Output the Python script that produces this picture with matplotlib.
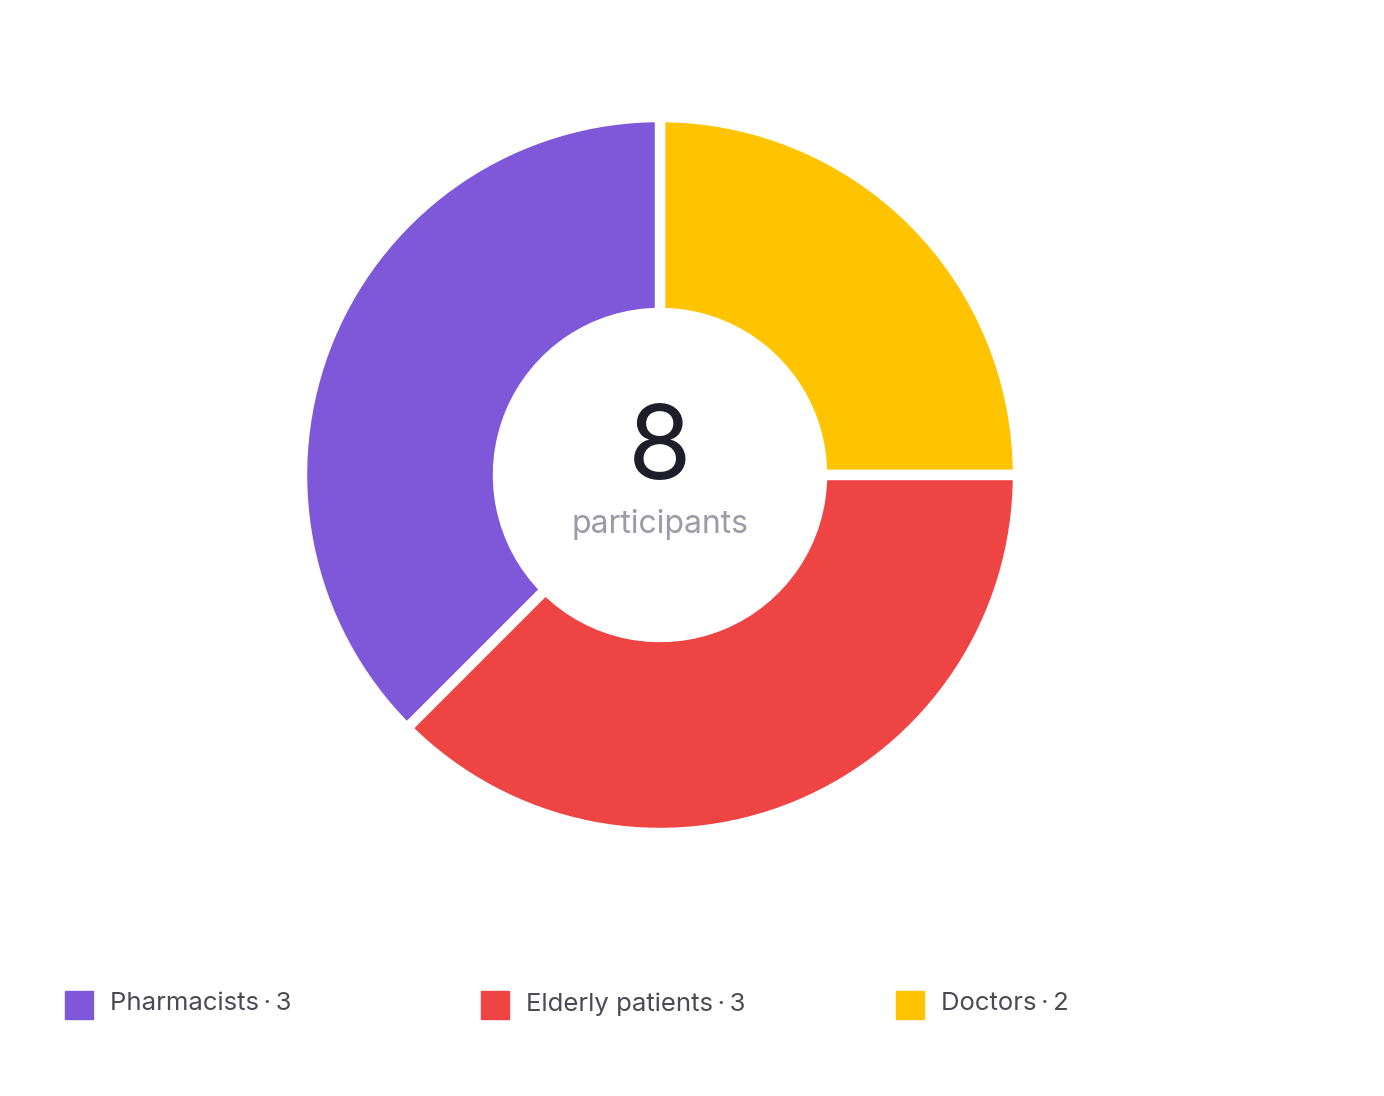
import matplotlib as mpl
mpl.use('Agg')
import matplotlib.pyplot as plt
from matplotlib.patches import Rectangle

plt.rcParams['font.family'] = ['Inter', 'DejaVu Sans']

# data (drawing order: clockwise from 12 o'clock)
groups = ['Doctors', 'Elderly patients', 'Pharmacists']
counts = [2, 3, 3]
colors = ['#FFC300', '#EF4444', '#7F58DA']

# legend order as shown under the chart
legend_groups = ['Pharmacists', 'Elderly patients', 'Doctors']

W, H = 1384, 1096
fig = plt.figure(figsize=(W / 100, H / 100), dpi=100)
ax = fig.add_axes([0, 0, 1, 1])

cx, cy = 660, H - 475
ax.pie(counts, colors=colors, startangle=90, counterclock=False,
       center=(cx, cy), radius=358, frame=True,
       wedgeprops=dict(width=196, edgecolor='white', linewidth=7.5))
ax.set_xlim(0, W)
ax.set_ylim(0, H)
ax.set_aspect('equal')
ax.axis('off')

total = sum(counts)
ax.text(cx, H - 452, str(total), ha='center', va='center',
        fontsize=74, color='#1E1E28')
ax.text(cx, H - 525, 'participants', ha='center', va='center',
        fontsize=23, color='#9B9AA6')

lookup = dict(zip(groups, counts))
cmap = dict(zip(groups, colors))
for i, g in enumerate(legend_groups):
    x0 = 65 + i * 415.5
    ax.add_patch(Rectangle((x0, H - 1019), 28, 28, color=cmap[g]))
    ax.text(x0 + 45, H - 1004, g + '\u2009\u00b7\u2009' + str(lookup[g]),
            ha='left', va='center', fontsize=18.5, color='#4A4A55')

fig.savefig('out.png', dpi=100, facecolor='white')
